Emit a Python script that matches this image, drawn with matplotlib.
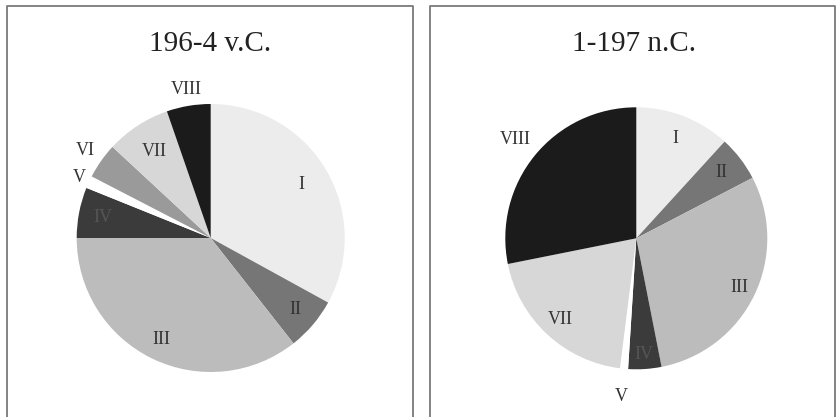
"""
Two pie charts: share of groups I-VIII in two periods
"""
import numpy as np
import matplotlib
matplotlib.use("Agg")
from matplotlib import pyplot as plt

#Group names and shares (percent)
groups = ["I", "II", "III", "IV", "V", "VI", "VII", "VIII"]
share_bc = [33.0, 6.4, 35.6, 6.1, 1.5, 4.3, 7.8, 5.3]
share_ad = [11.8, 5.6, 29.6, 4.1, 1.0, 0.0, 19.9, 28.2]
titles = ["196-4 v.C.", "1-197 n.C."]

#Grey shades per group
colors = ["#ececec", "#767676", "#bcbcbc", "#3b3b3b",
          "#ffffff", "#9a9a9a", "#d7d7d7", "#1b1b1b"]
text_colors = ["#333333", "#333333", "#333333", "#555555",
               "#333333", "#333333", "#333333", "#333333"]

#Radial position of each label (fraction of radius)
label_r_bc = [0.79, 0.83, 0.84, 0.82, 1.08, 1.14, 0.77, 1.12]
label_r_ad = [0.82, 0.82, 0.87, 0.89, 1.21, 1.0, 0.85, 1.19]

W, H = 837, 417
fig = plt.figure(figsize=(W / 100, H / 100), dpi=100)
fig.patch.set_facecolor("white")

serif = ["Liberation Serif", "DejaVu Serif"]


def px_axes(cx, cy, r):
    """Square axes with the pie centred at pixel (cx, cy) with radius r"""
    return fig.add_axes([(cx - r) / W, (H - cy - r) / H, 2 * r / W, 2 * r / H])


def draw_pie(ax, values, label_r):
    ax.pie(values, colors=colors, startangle=90, counterclock=False,
           wedgeprops=dict(linewidth=0))
    total = float(sum(values))
    start = 90.0
    for name, v, lr, tc in zip(groups, values, label_r, text_colors):
        if v <= 0:
            continue
        sweep = 360.0 * v / total
        mid = np.deg2rad(start - sweep / 2)
        start -= sweep
        ax.text(lr * np.cos(mid), lr * np.sin(mid), name,
                ha="center", va="center", fontsize=13,
                color=tc, family=serif, clip_on=False)
    ax.set_xlim(-1, 1)
    ax.set_ylim(-1, 1)
    ax.set_aspect("equal")
    ax.axis("off")


#Panel borders (open at the bottom as in the scan)
for x0, x1 in [(7, 413), (430, 835)]:
    xs = np.array([x0, x0, x1, x1]) / W
    ys = 1 - np.array([H + 5, 6, 6, H + 5]) / H
    fig.add_artist(plt.Line2D(xs, ys, color="#7a7a7a", linewidth=1.3,
                              transform=fig.transFigure))

ax1 = px_axes(210.7, 238.0, 134)
draw_pie(ax1, share_bc, label_r_bc)
ax2 = px_axes(636.3, 238.3, 131)
draw_pie(ax2, share_ad, label_r_ad)

fig.text(210 / W, 1 - 44 / H, titles[0], ha="center", va="center",
         fontsize=21, color="#222222", family=serif)
fig.text(634 / W, 1 - 44 / H, titles[1], ha="center", va="center",
         fontsize=21, color="#222222", family=serif)

fig.savefig("out.png", dpi=100)
